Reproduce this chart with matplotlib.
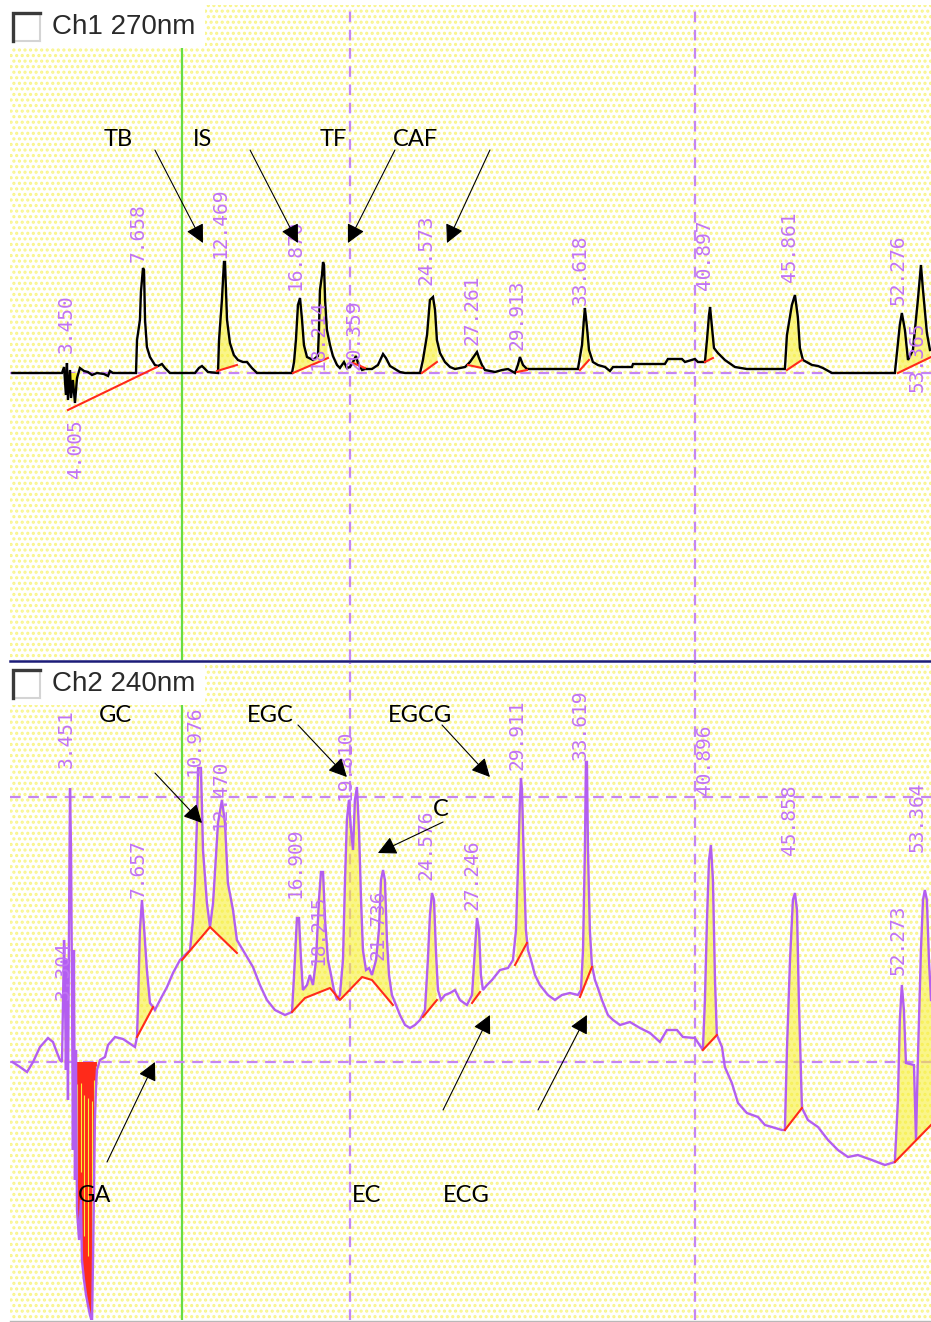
import numpy as np
import matplotlib
matplotlib.use("Agg")
import matplotlib.pyplot as plt
from matplotlib.patches import Rectangle, PathPatch
from matplotlib.path import Path
from matplotlib.lines import Line2D

# ---------------- data (retention time in min, detector signal in mAU) ----------------
ch1_time = [0.00, 2.91, 3.03, 3.14, 3.20, 3.26, 3.38, 3.44, 3.55, 3.67,
            3.79, 3.96, 4.20, 4.43, 4.67, 4.96, 5.37, 5.61, 5.72, 5.90,
            7.25, 7.31, 7.48, 7.54, 7.66, 7.72, 7.78, 7.89, 8.07, 8.36,
            8.54, 8.77, 8.95, 9.24, 10.71, 10.94, 11.12, 11.30, 11.47, 12.06,
            12.12, 12.29, 12.41, 12.47, 12.53, 12.59, 12.76, 12.99, 13.23, 13.52,
            13.76, 14.05, 14.35, 16.40, 16.52, 16.63, 16.75, 16.87, 16.99, 17.10,
            17.28, 17.63, 17.92, 17.98, 18.04, 18.16, 18.22, 18.28, 18.34, 18.45,
            18.63, 18.80, 19.04, 19.21, 19.45, 19.62, 19.80, 19.98, 20.15, 20.27,
            20.51, 20.68, 21.09, 21.44, 21.74, 21.91, 22.15, 22.44, 22.73, 23.03,
            23.91, 24.08, 24.32, 24.49, 24.67, 24.79, 24.90, 25.08, 25.37, 25.67,
            25.96, 26.25, 26.55, 26.84, 27.13, 27.25, 27.37, 27.54, 27.72, 28.31,
            28.72, 29.07, 29.48, 29.65, 29.77, 29.95, 30.18, 33.17, 33.41, 33.52,
            33.58, 33.70, 33.82, 34.05, 34.34, 34.76, 35.05, 35.23, 36.34, 36.40,
            38.27, 38.45, 39.27, 39.45, 40.03, 40.21, 40.62, 40.74, 40.86, 40.92,
            41.03, 41.15, 41.38, 41.79, 42.38, 43.08, 45.31, 45.43, 45.72, 45.90,
            46.07, 46.19, 46.37, 46.90, 47.25, 47.54, 48.07, 51.76, 51.94, 52.05,
            52.17, 52.35, 52.53, 52.82, 53.11, 53.29, 53.41, 53.64, 53.82]
ch1_signal = [0, 0, 6, -22, 10, -27, 3, -25, -7, -30,
              -5, 5, 2, 1, -2, 0, -1, -3, 2, 0,
              0, 33, 53, 81, 105, 103, 53, 26, 16, 8,
              7, 9, 5, 0, 0, 5, 7, 4, 1, 0,
              33, 73, 111, 111, 83, 53, 30, 18, 13, 11,
              11, 5, 0, 0, 11, 33, 68, 75, 53, 28,
              16, 13, 17, 43, 83, 98, 111, 108, 73, 43,
              28, 17, 8, 5, 11, 5, 6, 11, 17, 10,
              3, 4, 4, 8, 19, 15, 7, 4, 1, 0,
              0, 13, 38, 73, 76, 63, 33, 20, 11, 6,
              4, 5, 6, 11, 18, 21, 15, 8, 3, 1,
              3, 4, 0, 8, 16, 8, 4, 4, 28, 53,
              65, 46, 23, 11, 8, 6, 2, 6, 6, 9,
              9, 14, 14, 11, 14, 11, 11, 33, 58, 66,
              46, 25, 20, 13, 6, 4, 4, 38, 68, 78,
              56, 25, 13, 8, 7, 5, 0, 0, 30, 48,
              60, 43, 13, 23, 73, 108, 83, 40, 23]

ch2_time = [0.00, 0.45, 0.86, 1.21, 1.62, 2.09, 2.38, 2.67, 2.79, 2.91,
            2.97, 3.03, 3.09, 3.14, 3.20, 3.26, 3.32, 3.38, 3.44, 3.50,
            3.55, 3.61, 3.67, 3.73, 3.79, 3.91, 4.02, 4.08, 4.20, 4.32,
            4.43, 4.55, 4.67, 4.73, 4.79, 4.84, 4.90, 4.96, 5.14, 5.43,
            5.61, 6.02, 6.49, 7.01, 7.19, 7.31, 7.37, 7.48, 7.60, 7.72,
            7.89, 8.07, 8.25, 8.36, 8.66, 9.07, 9.42, 9.83, 10.01, 10.42,
            10.59, 10.71, 10.83, 10.89, 11.06, 11.18, 11.41, 11.59, 11.77, 12.06,
            12.29, 12.47, 12.64, 12.94, 13.17, 13.76, 14.11, 14.52, 14.93, 15.40,
            15.99, 16.40, 16.57, 16.69, 16.81, 16.93, 17.04, 17.28, 17.45, 17.63,
            17.81, 17.98, 18.10, 18.22, 18.34, 18.51, 18.69, 18.86, 19.04, 19.21,
            19.39, 19.51, 19.62, 19.74, 19.86, 19.98, 20.09, 20.21, 20.33, 20.45,
            20.56, 20.74, 20.92, 21.09, 21.33, 21.50, 21.62, 21.74, 21.85, 21.97,
            22.09, 22.26, 22.50, 22.73, 23.03, 23.32, 23.61, 23.91, 24.20, 24.37,
            24.49, 24.61, 24.73, 24.84, 24.96, 25.14, 25.37, 25.67, 25.96, 26.25,
            26.66, 26.96, 27.13, 27.25, 27.37, 27.48, 27.60, 27.84, 28.13, 28.60,
            29.07, 29.36, 29.54, 29.65, 29.77, 29.83, 29.89, 30.01, 30.12, 30.24,
            30.42, 30.65, 30.94, 31.41, 31.82, 32.23, 32.70, 33.17, 33.35, 33.47,
            33.58, 33.64, 33.70, 33.76, 33.87, 33.99, 34.17, 34.34, 34.58, 34.93,
            35.23, 35.64, 36.22, 36.81, 37.40, 37.98, 38.39, 38.98, 39.33, 40.03,
            40.50, 40.62, 40.74, 40.86, 40.97, 41.09, 41.21, 41.32, 41.62, 41.79,
            42.20, 42.56, 43.08, 43.73, 44.14, 45.14, 45.31, 45.43, 45.61, 45.78,
            45.90, 46.02, 46.13, 46.31, 46.66, 47.25, 47.84, 48.42, 49.01, 49.59,
            50.41, 51.18, 51.76, 51.94, 52.05, 52.17, 52.29, 52.41, 52.88, 53.00,
            53.11, 53.29, 53.41, 53.52, 53.64, 53.76, 53.88]
ch2_signal = [0, -5, -10, 0, 15, 24, 20, 7, 2, 0,
              62, 122, 62, -8, 102, -38, 132, 274, 212, 62,
              -88, 112, -118, 12, -148, -178, -138, -198, -218, -233,
              -243, -253, -260, -198, -118, -58, -28, -8, 2, 5,
              17, 25, 23, 17, 15, 25, 59, 132, 162, 135,
              92, 59, 55, 52, 62, 75, 89, 102, 105, 112,
              142, 179, 242, 294, 294, 212, 159, 135, 159, 239,
              262, 239, 179, 152, 122, 105, 95, 77, 62, 52,
              47, 50, 102, 144, 144, 102, 72, 77, 87, 77,
              102, 162, 190, 190, 142, 102, 87, 72, 62, 67,
              102, 182, 242, 262, 232, 212, 262, 275, 232, 162,
              112, 92, 94, 87, 102, 132, 182, 192, 182, 122,
              87, 67, 57, 47, 37, 34, 37, 42, 52, 102,
              147, 169, 162, 112, 72, 62, 67, 69, 72, 62,
              57, 67, 112, 144, 132, 87, 72, 77, 82, 92,
              94, 102, 132, 192, 262, 284, 272, 192, 132, 112,
              102, 87, 77, 67, 62, 67, 69, 67, 72, 112,
              212, 300, 300, 212, 132, 97, 82, 74, 62, 47,
              42, 37, 40, 34, 29, 20, 32, 32, 25, 24,
              12, 62, 142, 202, 217, 182, 82, 27, 15, -5,
              -21, -41, -51, -55, -63, -68, -68, 12, 102, 162,
              169, 152, 62, -46, -58, -65, -78, -88, -95, -93,
              -98, -103, -100, -38, 42, 77, 52, -1, -3, -78,
              2, 112, 162, 172, 162, 102, 62]

# integration baselines (start/end points: time, signal)
ch1_baselines = [[(3.26, -37), (8.48, 6)], [(12.00, 2), (13.17, 8)],
                 [(16.46, 0), (18.51, 15)], [(19.98, 10), (20.68, 5)],
                 [(24.02, 0), (24.90, 11)], [(26.72, 8), (27.54, 5)],
                 [(29.60, 1), (30.18, 3)], [(33.29, 3), (33.82, 13)],
                 [(40.62, 11), (41.09, 15)], [(45.43, 3), (46.31, 13)],
                 [(51.94, 0), (53.88, 16)]]
ch1_fill = [False] + [True] * 10
ch2_baselines = [[(7.31, 25), (8.25, 55)],
                 [(9.95, 102), (11.59, 135), (13.17, 109)],
                 [(16.40, 50), (17.16, 64), (18.63, 74), (19.21, 62), (20.51, 85), (21.09, 82), (22.32, 57)],
                 [(24.08, 45), (24.90, 62)], [(26.96, 59), (27.43, 70)],
                 [(29.48, 97), (30.18, 119)], [(33.29, 65), (33.99, 95)],
                 [(40.50, 12), (41.32, 27)], [(45.31, -68), (46.31, -46)],
                 [(51.76, -100), (53.88, -63)]]
ch2_fill = [True] * 10

ch1_peak_labels = ["3.450", "4.005", "7.658", "12.469", "16.870", "18.214", "20.359",
                   "24.573", "27.261", "29.913", "33.618", "40.897", "45.861", "52.276", "53.365"]
ch2_peak_labels = ["3.451", "3.304", "7.657", "10.976", "12.470", "16.909", "18.215", "19.810",
                   "21.736", "24.576", "27.246", "29.911", "33.619", "40.896", "45.858", "52.273", "53.364"]

ch1_tags = ["TB", "IS", "TF", "CAF"]
ch2_tags = ["GC", "EGC", "EGCG", "C", "GA", "EC", "ECG"]

# ---------------- layout (positions of texts / arrows / cursors) ----------------
ch1_label_y = [20, -105, 111, 115, 83, 3, 3, 88, 28, 23, 68, 83, 91, 68, -19]
ch2_label_y = [294, 62, 164, 286, 232, 164, 97, 262, 102, 182, 152, 292, 302, 267, 207, 87, 210]
ch1_tag_xy = [(6.19, 233), (11.18, 233), (18.80, 233), (23.67, 233)]
ch1_arrow_from = [(8.36, 223), (13.94, 223), (22.44, 223), (28.01, 223)]
ch1_arrow_to = [(11.18, 130), (16.75, 130), (19.68, 130), (25.49, 130)]
ch2_tag_xy = [(6.02, 346), (15.11, 346), (23.91, 346), (25.15, 252),
              (4.84, -133), (20.80, -133), (26.60, -133)]
ch2_arrow_from = [(8.36, 289), (16.75, 337), (25.20, 337), (25.26, 240),
                  (5.55, -100), (25.26, -48), (30.83, -48)]
ch2_arrow_to = [(11.12, 239), (19.62, 285), (28.01, 285), (21.44, 209),
                (8.36, 0), (28.01, 47), (33.70, 47)]
GREEN_CURSOR = 9.95
V_CURSORS = [19.80, 40.03]
CH2_H_CURSORS = [0, 265]
NEG_WINDOW_CH1 = (3.0, 3.9)
NEG_WINDOW_CH2 = (2.9, 5.0)

# ---------------- style ----------------
PURPLE = "#b35ef0"
LABEL = "#c172f5"
DASH = "#c585f2"
RED = "#ff2a1a"
YELLOW = "#f7ef3a"
GREEN = "#66dd44"
DOT = "#f9f58a"
DASHSTYLE = (0, (4.8, 3.4))
FILL_ALPHA = 0.6

W, H = 931, 1322
plt.rcParams["hatch.linewidth"] = 1.5
fig = plt.figure(figsize=(W / 100, H / 100), dpi=100, facecolor="white")


def fx(x):
    return x / W


def fy(y):
    return 1 - y / H


ax1 = fig.add_axes([fx(10), fy(660), fx(931) - fx(10), fy(5) - fy(660)])
ax2 = fig.add_axes([fx(10), fy(1320), fx(931) - fx(10), fy(663) - fy(1320)])
ax1.set_ylim(-287, 368)
ax2.set_ylim(-258, 399)
for ax in (ax1, ax2):
    ax.set_xlim(-0.14, 53.88)
    ax.set_xticks([])
    ax.set_yticks([])
    for sp in ax.spines.values():
        sp.set_visible(False)
    ax.patch.set_facecolor("white")
    ax.patch.set_hatch("...")
    ax.patch.set_edgecolor(DOT)
    ax.patch.set_linewidth(0)
    ax.axvline(GREEN_CURSOR, color=GREEN, lw=1.6, zorder=1)
    for c in V_CURSORS:
        ax.axvline(c, color=DASH, lw=1.6, ls=DASHSTYLE, zorder=1)
ax1.axhline(0, color=DASH, lw=1.6, ls=DASHSTYLE, zorder=1)
for c in CH2_H_CURSORS:
    ax2.axhline(c, color=DASH, lw=1.6, ls=DASHSTYLE, zorder=1)


def clip_poly(y0, y1, hdr_bottom):
    # plot area minus the header box (figure pixels -> figure fraction)
    pts = [(10, y1), (931, y1), (931, y0), (205, y0), (205, hdr_bottom), (10, hdr_bottom), (10, y1)]
    verts = [(fx(a), fy(b)) for a, b in pts]
    return PathPatch(Path(verts, closed=True), transform=fig.transFigure,
                     facecolor="none", edgecolor="none")


clip1 = clip_poly(5, 660, 48)
clip2 = clip_poly(663, 1320, 706)


def draw_channel(ax, t, s, color, baselines, fills, labels, label_y, neg_window, neg_color, clip):
    t = np.asarray(t, float)
    s = np.asarray(s, float)
    m = (t >= neg_window[0]) & (t <= neg_window[1])
    ax.fill_between(t[m], 0, s[m], where=s[m] < 0, interpolate=True,
                    color=neg_color, lw=0, zorder=1.5)
    if neg_color == RED:
        neg = m & (s < 0)
        ax.vlines(t[neg][::2], 0.15 * s[neg][::2], 0.8 * s[neg][::2],
                  color=YELLOW, lw=0.8, zorder=1.6)
    for seg, f in zip(baselines, fills):
        bt, bv = zip(*seg)
        if f:
            mm = (t >= bt[0]) & (t <= bt[-1])
            tt = t[mm]
            ss = s[mm]
            bb = np.interp(tt, bt, bv)
            ax.fill_between(tt, bb, ss, where=ss >= bb, interpolate=True,
                            color=YELLOW, alpha=FILL_ALPHA, lw=0, zorder=1.5)
        ax.plot(bt, bv, color=RED, lw=1.5, zorder=2.5)
    ax.plot(t, s, color=color, lw=1.7, zorder=2, solid_joinstyle="miter")
    for lab, y in zip(labels, label_y):
        txt = ax.text(float(lab) - 0.3, y, lab, rotation=90, ha="center", va="bottom",
                      family="DejaVu Sans Mono", fontsize=14, color=LABEL, zorder=4)
        txt.set_clip_path(clip)


draw_channel(ax1, ch1_time, ch1_signal, "black", ch1_baselines, ch1_fill,
             ch1_peak_labels, ch1_label_y, NEG_WINDOW_CH1, YELLOW, clip1)
draw_channel(ax2, ch2_time, ch2_signal, PURPLE, ch2_baselines, ch2_fill,
             ch2_peak_labels, ch2_label_y, NEG_WINDOW_CH2, RED, clip2)


def tags(ax, names, xy, a_from, a_to):
    for n, p in zip(names, xy):
        ax.text(p[0], p[1], n, ha="center", va="center", fontsize=17,
                family=["Lato", "DejaVu Sans"], color="black", zorder=6)
    for a, b in zip(a_from, a_to):
        ax.annotate("", xy=b, xytext=a, zorder=6,
                    arrowprops=dict(arrowstyle="-|>,head_length=0.75,head_width=0.38",
                                    color="black", lw=0.8, mutation_scale=15,
                                    shrinkA=0, shrinkB=0))


tags(ax1, ch1_tags, ch1_tag_xy, ch1_arrow_from, ch1_arrow_to)
tags(ax2, ch2_tags, ch2_tag_xy, ch2_arrow_from, ch2_arrow_to)


def header(y0, text):
    fig.add_artist(Rectangle((fx(10), fy(y0 + 43)), fx(205) - fx(10), fy(y0) - fy(y0 + 43),
                             transform=fig.transFigure, facecolor="white",
                             edgecolor="none", zorder=10))
    x0, x1, ya, yb = 13, 40, y0 + 8, y0 + 36
    fig.add_artist(Line2D([fx(x0), fx(x1)], [fy(yb), fy(yb)], transform=fig.transFigure,
                          color="#d4d4d4", lw=1.5, zorder=11))
    fig.add_artist(Line2D([fx(x1), fx(x1)], [fy(ya), fy(yb)], transform=fig.transFigure,
                          color="#d4d4d4", lw=1.5, zorder=11))
    fig.add_artist(Line2D([fx(x0), fx(x0), fx(x1)], [fy(yb), fy(ya), fy(ya)],
                          transform=fig.transFigure, color="#3a3a3a", lw=2.4,
                          solid_joinstyle="miter", zorder=11))
    fig.text(fx(52), fy(y0 + 22), text, fontsize=20, family=["Liberation Sans", "DejaVu Sans"],
             color="#2a2a2a", va="center", ha="left", zorder=12)


header(5, "Ch1 270nm")
header(662, "Ch2 240nm")
fig.add_artist(Line2D([fx(10), 1], [fy(661), fy(661)], transform=fig.transFigure,
                      color="#1c1c78", lw=1.8, zorder=12))
fig.add_artist(Line2D([fx(10), 1], [fy(1320.5), fy(1320.5)], transform=fig.transFigure,
                      color="#b8b8b8", lw=1.0, zorder=12))

fig.savefig("out.png", dpi=100, facecolor="white")
